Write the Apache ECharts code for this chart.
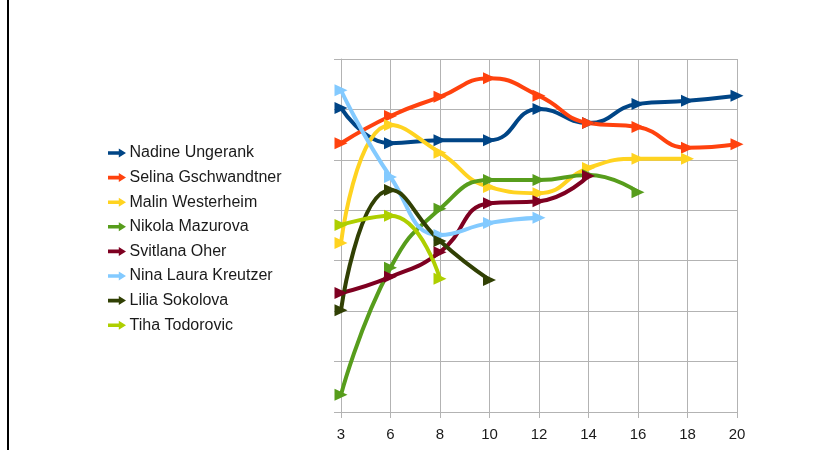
<!DOCTYPE html>
<html>
<head>
<meta charset="utf-8">
<script src="https://cdn.jsdelivr.net/npm/echarts@6/dist/echarts.min.js"></script>
<style>
  html, body { margin: 0; padding: 0; background: #fff; }
  #chart { width: 827px; height: 450px; }
</style>
</head>
<body>
<div id="chart"></div>
<script>
// x categories
const rounds = ['3', '6', '8', '10', '12', '14', '16', '18', '20']

// series values (arbitrary units 0..7)
const nadine = [6.03, 5.33, 5.39, 5.39, 6.01, 5.73, 6.11, 6.17, 6.27]
const selina = [5.33, 5.87, 6.25, 6.62, 6.27, 5.73, 5.65, 5.24, 5.31]
const malin = [3.35, 5.69, 5.14, 4.46, 4.34, 4.84, 5.02, 5.02]
const nikola = [0.34, 2.86, 4.03, 4.60, 4.60, 4.70, 4.36]
const svitlana = [2.36, 2.68, 3.17, 4.14, 4.18, 4.68]
const nina = [6.38, 4.66, 3.51, 3.75, 3.85]
const lilia = [2.02, 4.40, 3.39, 2.62]
const tiha = [3.71, 3.89, 2.64]

const names = [
  'Nadine Ungerank', 'Selina Gschwandtner', 'Malin Westerheim', 'Nikola Mazurova',
  'Svitlana Oher', 'Nina Laura Kreutzer', 'Lilia Sokolova', 'Tiha Todorovic',
]
const values = [nadine, selina, malin, nikola, svitlana, nina, lilia, tiha]
const colors = ['#004586', '#ff420e', '#ffd320', '#579d1c', '#7e0021', '#83caff', '#314004', '#aecf00']

const gridColor = '#b3b3b3'
const font = '"Liberation Sans", Arial, sans-serif'

const chart = echarts.init(document.getElementById('chart'))

chart.setOption({
  animation: false,
  color: colors,
  graphic: [
    { type: 'rect', shape: { x: 7, y: 0, width: 2, height: 450 }, style: { fill: '#000' } },
  ],
  legend: {
    orient: 'vertical',
    left: 103,
    top: 140,
    itemWidth: 19,
    itemHeight: 9,
    itemGap: 8.6,
    icon: 'path://M0,3L12,3L12,0L20,5L12,10L12,7L0,7Z',
    textStyle: { fontFamily: font, fontSize: 16, lineHeight: 16, color: '#1a1a1a', padding: [0, 0, 0, -2] },
    data: names,
  },
  grid: {
    left: 341,
    right: 90,
    top: 59,
    bottom: 38,
    containLabel: false,
  },
  xAxis: {
    type: 'category',
    boundaryGap: false,
    data: rounds,
    axisLine: { lineStyle: { color: gridColor, width: 1 } },
    axisTick: { show: true, length: 6, interval: 0, lineStyle: { color: gridColor } },
    axisLabel: { interval: 0, margin: 15, fontFamily: font, fontSize: 15, color: '#1a1a1a' },
    splitLine: { show: true, interval: 0, lineStyle: { color: gridColor, width: 1 } },
  },
  yAxis: {
    type: 'value',
    min: 0,
    max: 7,
    interval: 1,
    axisLine: { show: true, lineStyle: { color: gridColor } },
    axisTick: { show: true, length: 7, lineStyle: { color: gridColor } },
    axisLabel: { show: false },
    splitLine: { lineStyle: { color: gridColor, width: 1 } },
  },
  series: names.map((name, i) => ({
    name,
    type: 'line',
    smooth: 0.5,
    data: values[i],
    symbol: 'triangle',
    symbolSize: [12, 13],
    symbolRotate: -90,
    showAllSymbol: true,
    lineStyle: { width: 4, color: colors[i] },
    itemStyle: { color: colors[i] },
  })),
})
</script>
</body>
</html>
